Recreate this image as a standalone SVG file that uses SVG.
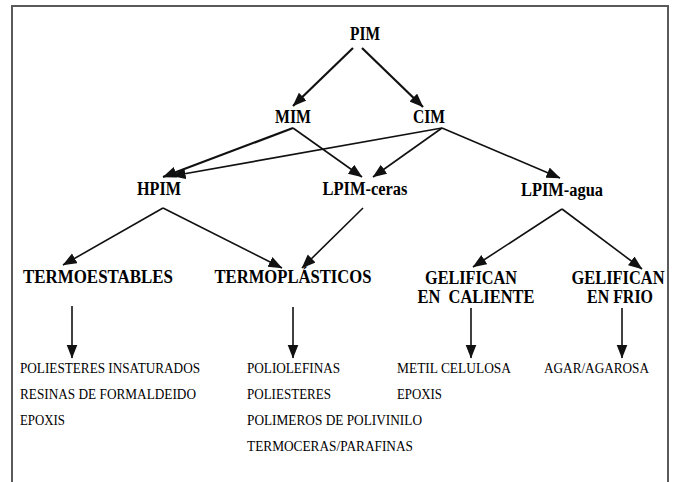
<svg xmlns="http://www.w3.org/2000/svg" width="676" height="482" viewBox="0 0 676 482">
<style>
text{font-family:'Liberation Serif','Times New Roman','DejaVu Serif',serif}
.h{font-weight:bold;font-size:18px;fill:#000;text-anchor:middle}
.t{font-size:14px;fill:#000}
.c{stroke:#111;stroke-width:1.6;fill:none;marker-end:url(#ah)}
.c2{stroke:#111;stroke-width:2.2;fill:none;marker-end:url(#ah)}
</style>
<defs>
<marker id="ah" markerUnits="userSpaceOnUse" markerWidth="14" markerHeight="12" refX="13.5" refY="5.5" orient="auto">
<path d="M0,0 L14,5.5 L0,11 z" fill="#111"/>
</marker>
</defs>
<rect width="676" height="482" fill="#fff"/>
<path d="M12,482 V6 H668 V482" fill="none" stroke="#5a5a5a" stroke-width="2"/>
<g id="connectors">
<line class="c2" x1="353" y1="48" x2="293" y2="106"/>
<line class="c2" x1="362" y1="48" x2="423" y2="107"/>
<line class="c2" x1="293" y1="128" x2="163" y2="177"/>
<line class="c" x1="293" y1="128" x2="362" y2="177"/>
<line class="c" x1="442" y1="128" x2="172" y2="176"/>
<line class="c" x1="442" y1="128" x2="373" y2="177"/>
<line class="c" x1="442" y1="128" x2="560" y2="178"/>
<line class="c" x1="163" y1="208" x2="63" y2="265"/>
<line class="c" x1="163" y1="208" x2="282" y2="268"/>
<line class="c" x1="363" y1="208" x2="302" y2="268"/>
<line class="c" x1="562" y1="209" x2="473" y2="267"/>
<line class="c" x1="562" y1="209" x2="642" y2="269"/>
<line class="c" x1="72" y1="306" x2="72" y2="358"/>
<line class="c" x1="293" y1="307" x2="293" y2="358"/>
<line class="c" x1="471" y1="308" x2="471" y2="358"/>
<line class="c" x1="622" y1="308" x2="622" y2="358"/>
</g>
<g id="pim"><text class="h" x="365" y="40" textLength="30" lengthAdjust="spacingAndGlyphs">PIM</text></g>
<g id="mim"><text class="h" x="293" y="123" textLength="36" lengthAdjust="spacingAndGlyphs">MIM</text></g>
<g id="cim"><text class="h" x="429" y="123" textLength="32" lengthAdjust="spacingAndGlyphs">CIM</text></g>
<g id="hpim"><text class="h" x="159" y="195" textLength="44" lengthAdjust="spacingAndGlyphs">HPIM</text></g>
<g id="lpim-ceras"><text class="h" x="365" y="195" textLength="85" lengthAdjust="spacingAndGlyphs">LPIM-ceras</text></g>
<g id="lpim-agua"><text class="h" x="562" y="196" textLength="82" lengthAdjust="spacingAndGlyphs">LPIM-agua</text></g>
<g id="termoestables"><text class="h" x="98" y="283" textLength="150" lengthAdjust="spacingAndGlyphs">TERMOESTABLES</text></g>
<g id="termoplasticos"><text class="h" x="293" y="283" textLength="157" lengthAdjust="spacingAndGlyphs">TERMOPLÁSTICOS</text></g>
<g id="gel-caliente">
<text class="h" x="471" y="284" textLength="92" lengthAdjust="spacingAndGlyphs">GELIFICAN</text>
<text class="h" x="476" y="303" textLength="117" lengthAdjust="spacingAndGlyphs" xml:space="preserve">EN  CALIENTE</text>
</g>
<g id="gel-frio">
<text class="h" x="618" y="284" textLength="93" lengthAdjust="spacingAndGlyphs">GELIFICAN</text>
<text class="h" x="620" y="303" textLength="66" lengthAdjust="spacingAndGlyphs">EN FRIO</text>
</g>
<g id="list-termoestables">
<text class="t" x="20" y="373" textLength="180" lengthAdjust="spacingAndGlyphs">POLIESTERES INSATURADOS</text>
<text class="t" x="20" y="399" textLength="176" lengthAdjust="spacingAndGlyphs">RESINAS DE FORMALDEIDO</text>
<text class="t" x="20" y="425" textLength="45" lengthAdjust="spacingAndGlyphs">EPOXIS</text>
</g>
<g id="list-termoplasticos">
<text class="t" x="247" y="373" textLength="93" lengthAdjust="spacingAndGlyphs">POLIOLEFINAS</text>
<text class="t" x="247" y="399" textLength="84" lengthAdjust="spacingAndGlyphs">POLIESTERES</text>
<text class="t" x="247" y="425" textLength="175" lengthAdjust="spacingAndGlyphs">POLIMEROS DE POLIVINILO</text>
<text class="t" x="247" y="451" textLength="166" lengthAdjust="spacingAndGlyphs">TERMOCERAS/PARAFINAS</text>
</g>
<g id="list-caliente">
<text class="t" x="397" y="373" textLength="114" lengthAdjust="spacingAndGlyphs">METIL CELULOSA</text>
<text class="t" x="397" y="399" textLength="45" lengthAdjust="spacingAndGlyphs">EPOXIS</text>
</g>
<g id="list-frio">
<text class="t" x="544" y="373" textLength="105" lengthAdjust="spacingAndGlyphs">AGAR/AGAROSA</text>
</g>
</svg>
